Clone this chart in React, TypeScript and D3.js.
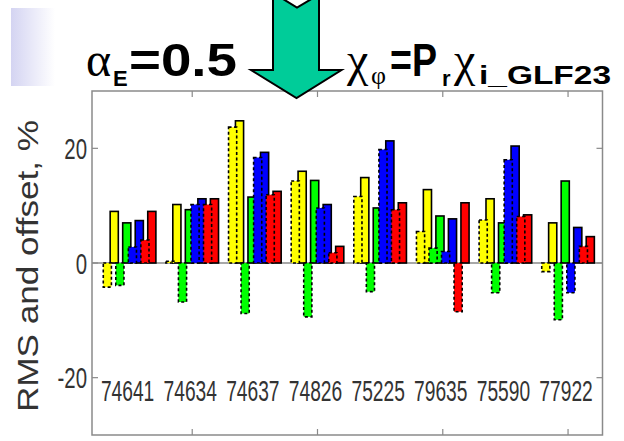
import React from 'react';
import * as d3 from 'd3';

// shot numbers shown under each group
const shots = ['74641', '74634', '74637', '74826', '75225', '79635', '75590', '77922'];

// solid-edged bars (RMS) and dotted-edged bars (offset), in %
const rmsYellow = [9, 10.2, 24.8, 16, 14.9, 12.8, 11.2, 7];
const offYellow = [-4.2, 0.3, 23.7, 14.3, 11.6, 5.5, 7.5, -1.5];
const rmsGreen = [7, 9.3, 11.5, 14.4, 9.6, 8.2, 7, 14.3];
const offGreen = [-3.9, -6.8, -8.8, -9.4, -5.0, 2.6, -5.2, -9.9];
const rmsBlue = [7.4, 11.2, 19.3, 10.2, 21.3, 7.7, 20.4, 6.2];
const offBlue = [2.8, 10.2, 18.4, 9.6, 19.8, 2.0, 18, -5.2];
const rmsRed = [9, 11.2, 12.5, 2.9, 10.5, 10.5, 8.4, 4.6];
const offRed = [4, 10.2, 11.9, 1.8, 9.3, -8.5, 8.1, 2.9];

const yTicks = [-20, 0, 20];
const xTicks = [2, 4, 6, 8];

const series = [
    { color: '#ffff00', rms: rmsYellow, off: offYellow },
    { color: '#00ff00', rms: rmsGreen, off: offGreen },
    { color: '#0000ff', rms: rmsBlue, off: offBlue },
    { color: '#ff0000', rms: rmsRed, off: offRed },
];

export default function App() {
    const width = 624;
    const height = 441;

    // plot box
    const left = 92, right = 602.5, top = 91, bottom = 435;

    const xScale = d3.scaleLinear().domain([0.4, 8.55]).range([left, right]);
    const yScale = d3.scaleLinear().domain([-30, 30]).range([bottom, top]);

    const pairOffsets = [-0.3, -0.1, 0.1, 0.3];
    const barShift = 0.055;
    const barW = xScale(0.13) - xScale(0);

    const axisGrey = '#8a8a8a';
    const labelFont = '"Liberation Sans", Arial, sans-serif';
    const serif = '"Liberation Serif", "Times New Roman", serif';

    const barRect = (pos: number, v: number) => {
        const y0 = yScale(0);
        const y1 = yScale(v);
        return { x: xScale(pos) - barW / 2, y: Math.min(y0, y1), h: Math.abs(y1 - y0) };
    };

    // green arrow geometry
    const arrowPath = 'M273,-2 L319,-2 L319,70 L341.5,70 L296.5,98 L251,70 L273,70 Z';

    return (
        <div style={{ position: 'absolute', left: 0, top: 0 }}>
            <svg width={width} height={height} style={{ display: 'block', background: '#fff' }}>
                <defs>
                    <linearGradient id="sideBar" x1="0" x2="1" y1="0" y2="0">
                        <stop offset="0%" stopColor="#d4d4f2" />
                        <stop offset="100%" stopColor="#ffffff" />
                    </linearGradient>
                </defs>

                {/* faint slide decoration at left */}
                <rect x={11} y={8} width={44} height={78} fill="url(#sideBar)" />

                {/* plot frame */}
                <rect x={left} y={top} width={right - left} height={bottom - top}
                    fill="#fff" stroke={axisGrey} strokeWidth={1.5} />

                {/* zero baseline */}
                <line x1={left} x2={right} y1={yScale(0)} y2={yScale(0)} stroke={axisGrey} strokeWidth={1.5} />

                {/* ticks */}
                {xTicks.map(t => (
                    <g key={`xt${t}`}>
                        <line x1={xScale(t)} x2={xScale(t)} y1={top} y2={top + 6} stroke={axisGrey} strokeWidth={1.2} />
                        <line x1={xScale(t)} x2={xScale(t)} y1={bottom} y2={bottom - 6} stroke={axisGrey} strokeWidth={1.2} />
                    </g>
                ))}
                {yTicks.map(t => (
                    <g key={`yt${t}`}>
                        <line x1={left} x2={left + 6} y1={yScale(t)} y2={yScale(t)} stroke={axisGrey} strokeWidth={1.2} />
                        <line x1={right} x2={right - 6} y1={yScale(t)} y2={yScale(t)} stroke={axisGrey} strokeWidth={1.2} />
                        <text transform={`translate(87,${yScale(t)}) scale(0.68,1)`} dy="0.36em" textAnchor="end"
                            fontFamily={labelFont} fontSize={30} fill="#333">
                            {t < 0 ? `-${Math.abs(t)}` : t}
                        </text>
                    </g>
                ))}

                {/* solid-edged bars */}
                {series.map((s, si) => s.rms.map((v, gi) => {
                    const r = barRect(gi + 1 + pairOffsets[si] + barShift, v);
                    return <rect key={`r${si}-${gi}`} x={r.x} y={r.y} width={barW} height={r.h}
                        fill={s.color} stroke="#000" strokeWidth={1.6} />;
                }))}

                {/* dotted-edged bars */}
                {series.map((s, si) => s.off.map((v, gi) => {
                    const r = barRect(gi + 1 + pairOffsets[si] - barShift, v);
                    return <rect key={`o${si}-${gi}`} x={r.x} y={r.y} width={barW} height={r.h}
                        fill={s.color} stroke="#000" strokeWidth={1.6} strokeDasharray="3,2.5" />;
                }))}

                {/* shot labels */}
                {shots.map((s, i) => (
                    <text key={s} transform={`translate(${xScale(i + 1) - 2},${yScale(-24)}) scale(0.64,1)`}
                        textAnchor="middle" fontFamily={labelFont} fontSize={30} fill="#333">
                        {s}
                    </text>
                ))}

                {/* y axis title */}
                <text transform="translate(38,266) scale(0.9,1) rotate(-90)" textAnchor="middle"
                    fontFamily={labelFont} fontSize={33} fill="#333" textLength={292}
                    lengthAdjust="spacingAndGlyphs">
                    RMS and offset, %
                </text>

                {/* green arrow */}
                <path d={arrowPath} fill="#00cc99" stroke="#000" strokeWidth={2} strokeLinejoin="miter" />
                <path d="M283,-1 L297,7.5 L311.5,-1 Z" fill="#fff" stroke="#000" strokeWidth={2} />

                {/* title: alpha_E = 0.5 */}
                <text fill="#000">
                    <tspan x={86} y={76} fontFamily={serif} fontSize={48}>α</tspan>
                    <tspan x={113} y={86} fontFamily={labelFont} fontWeight="bold" fontSize={22}>E</tspan>
                    <tspan x={129} y={76} fontFamily={labelFont} fontWeight="bold" fontSize={46}
                        textLength={108} lengthAdjust="spacingAndGlyphs">=0.5</tspan>
                </text>

                {/* title: chi_phi = P_r chi_i_GLF23 */}
                <text fill="#000">
                    <tspan x={347} y={76} fontFamily={serif} fontSize={48}>χ</tspan>
                    <tspan x={371} y={84} fontFamily={serif} fontSize={26}>φ</tspan>
                    <tspan x={390} y={76} fontFamily={labelFont} fontWeight="bold" fontSize={46}
                        textLength={47} lengthAdjust="spacingAndGlyphs">=P</tspan>
                    <tspan x={442} y={86} fontFamily={labelFont} fontWeight="bold" fontSize={22}>r</tspan>
                    <tspan x={454} y={76} fontFamily={serif} fontSize={48}>χ</tspan>
                    <tspan x={479} y={84} fontFamily={labelFont} fontWeight="bold" fontSize={25}
                        textLength={132} lengthAdjust="spacingAndGlyphs">i_GLF23</tspan>
                </text>
            </svg>
        </div>
    );
}
